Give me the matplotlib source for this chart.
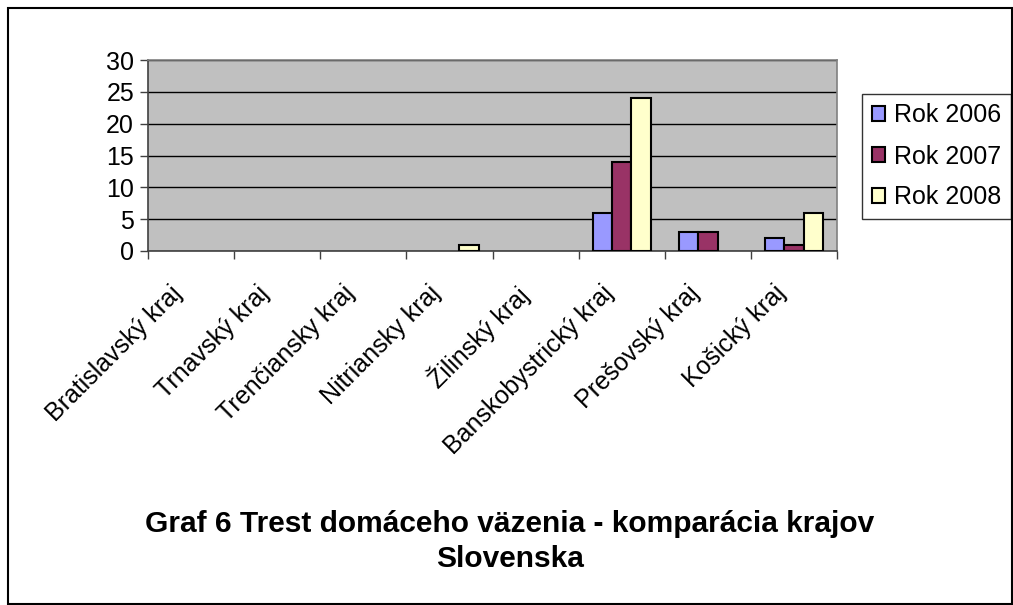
import matplotlib
matplotlib.use("Agg")
import matplotlib.pyplot as plt
import matplotlib.transforms as mtransforms
import numpy as np
from matplotlib.patches import Rectangle

plt.rcParams["font.family"] = ["Liberation Sans", "DejaVu Sans"]

regions = ["Bratislavský kraj", "Trnavský kraj", "Trenčiansky kraj", "Nitriansky kraj",
           "Žilinský kraj", "Banskobystrický kraj", "Prešovský kraj", "Košický kraj"]
series = ["Rok 2006", "Rok 2007", "Rok 2008"]
rok_2006 = [0, 0, 0, 0, 0, 6, 3, 2]
rok_2007 = [0, 0, 0, 0, 0, 14, 3, 1]
rok_2008 = [0, 0, 0, 1, 0, 24, 0, 6]
colors = ["#9999FF", "#993366", "#FFFFCC"]

fig = plt.figure(figsize=(10.13, 6.05), dpi=100)
# outer chart border
fig.patches.append(Rectangle((8 / 1013, 1 / 605), 1004 / 1013, 596 / 605,
                             transform=fig.transFigure, fill=False,
                             edgecolor="black", linewidth=1.5))

ax = fig.add_axes([148 / 1013, 1 - 251 / 605, 689 / 1013, 191 / 605])
ax.set_facecolor("#C0C0C0")

x = np.arange(len(regions))
w = 0.225
for i, (vals, lab, c) in enumerate(zip([rok_2006, rok_2007, rok_2008], series, colors)):
    # Excel draws nothing for zero values
    h = np.where(np.array(vals) == 0, np.nan, vals)
    ax.bar(x + (i - 1) * w, h, width=w, color=c, edgecolor="black",
           linewidth=1.5, label=lab, zorder=3)

ax.set_xlim(-0.5, len(regions) - 0.5)
ax.set_ylim(0, 30)
ax.set_yticks(range(0, 31, 5))
ax.yaxis.grid(True, color="black", linewidth=1.0, zorder=1)
ax.set_axisbelow(True)

# category labels: rotated, a bit left of the category centre like Excel does
ax.set_xticks(x)
ax.set_xticklabels([])
ax.tick_params(axis="x", which="major", length=0)
shift = mtransforms.ScaledTranslation(-0.21, -0.30, fig.dpi_scale_trans)
for xi, name in zip(x, regions):
    ax.text(xi, 0, name, transform=ax.get_xaxis_transform() + shift,
            rotation=45, ha="right", va="top", rotation_mode="anchor", fontsize=18)
ax.set_xticks(np.arange(-0.5, len(regions)), minor=True)
ax.tick_params(axis="x", which="minor", length=6, width=1, color="#404040")
ax.tick_params(axis="y", length=6, width=1, labelsize=18, pad=4, color="#404040")

for side in ["top", "right"]:
    ax.spines[side].set_color("#808080")
    ax.spines[side].set_linewidth(1.2)
for side in ["left", "bottom"]:
    ax.spines[side].set_color("#404040")
    ax.spines[side].set_linewidth(1.2)

leg = ax.legend(loc="upper left", bbox_to_anchor=(862 / 1013, 1 - 94 / 605),
                bbox_transform=fig.transFigure, fontsize=18, frameon=True,
                fancybox=False, edgecolor="black", handlelength=0.55,
                handleheight=0.55, handletextpad=0.35, labelspacing=0.68,
                borderpad=0.38, borderaxespad=0)
leg.get_frame().set_linewidth(1.0)

fig.text(510 / 1013, 1 - 524 / 605, "Graf 6 Trest domáceho väzenia - komparácia krajov",
         ha="center", va="center", fontsize=21.5, fontweight="bold")
fig.text(510 / 1013, 1 - 559 / 605, "Slovenska",
         ha="center", va="center", fontsize=21.5, fontweight="bold")

fig.savefig("out.png", dpi=100)
